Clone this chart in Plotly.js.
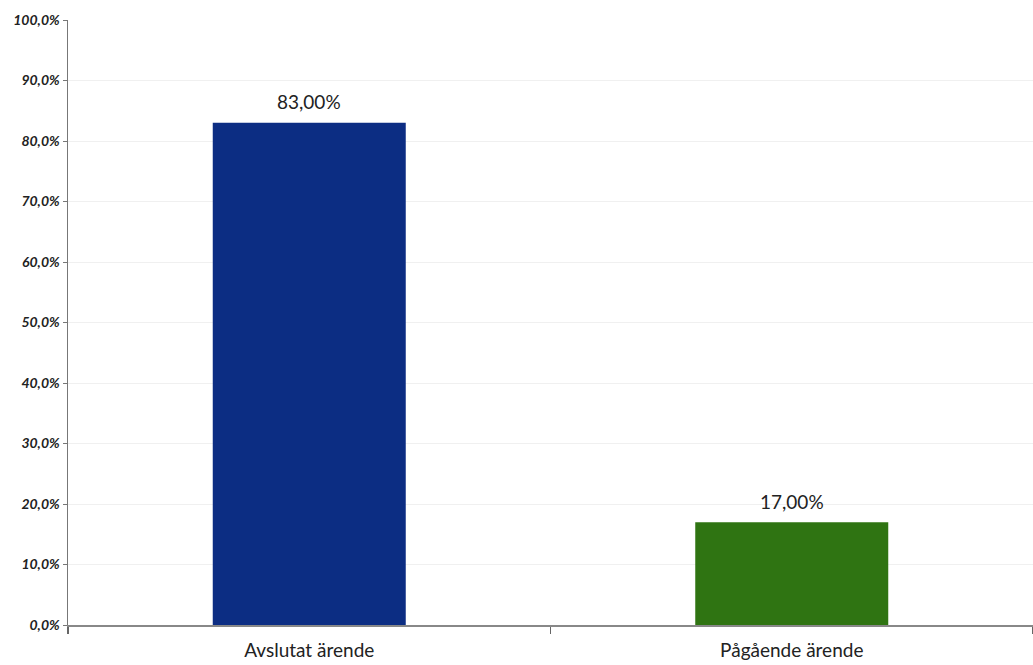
<!DOCTYPE html>
<html>
<head>
<meta charset="utf-8">
<script src="https://cdn.plot.ly/plotly-3.0.1.min.js"></script>
<style>html,body{margin:0;padding:0;background:#fff;}#chart{width:1033px;height:665px;}</style>
</head>
<body>
<div id="chart"></div>
<script>
const categories = ["Avslutat ärende", "Pågående ärende"];
const values = [83.0, 17.0];
const barColors = ["#0c2d83", "#2f7412"];
const yTicks = [0, 10, 20, 30, 40, 50, 60, 70, 80, 90, 100];
const yTickText = yTicks.map(v => v.toFixed(1).replace(".", ",") + "%");

const FONT = "Lato, 'Open Sans', sans-serif";

const trace = {
  type: "bar",
  x: categories,
  y: values,
  marker: {color: barColors, line: {width: 0}},
  hoverinfo: "none"
};

const annotations = categories.map((c, i) => ({
  x: c, y: values[i], xref: "x", yref: "y",
  text: values[i].toFixed(2).replace(".", ",") + "%",
  showarrow: false, yanchor: "middle", yshift: 21,
  font: {family: FONT, size: 19, color: "#222"}
}));

const layout = {
  width: 1033, height: 665,
  margin: {l: 68, r: 0, t: 20, b: 40},
  paper_bgcolor: "#fff", plot_bgcolor: "#fff",
  bargap: 0.6,
  showlegend: false,
  annotations: annotations,
  xaxis: {
    type: "category",
    range: [-0.5, 1.5],
    tickson: "boundaries",
    ticks: "outside", ticklen: 7, tickwidth: 1.5, tickcolor: "#666",
    ticklabelstandoff: 8,
    showline: true, linecolor: "#888", linewidth: 1.5,
    showgrid: false,
    tickfont: {family: FONT, size: 19, color: "#222"},
    fixedrange: true
  },
  yaxis: {
    range: [0, 100],
    tickmode: "array",
    tickvals: yTicks,
    ticktext: yTickText,
    ticks: "outside", ticklen: 4, tickcolor: "#777",
    showline: true, linecolor: "#777", linewidth: 1.5,
    showgrid: true, gridcolor: "#f0f0f0", gridwidth: 1,
    zeroline: false,
    tickfont: {family: FONT, size: 14, color: "#222", style: "italic", weight: "bold"},
    fixedrange: true
  }
};

Plotly.newPlot("chart", [trace], layout, {displayModeBar: false, staticPlot: true});
</script>
</body>
</html>
